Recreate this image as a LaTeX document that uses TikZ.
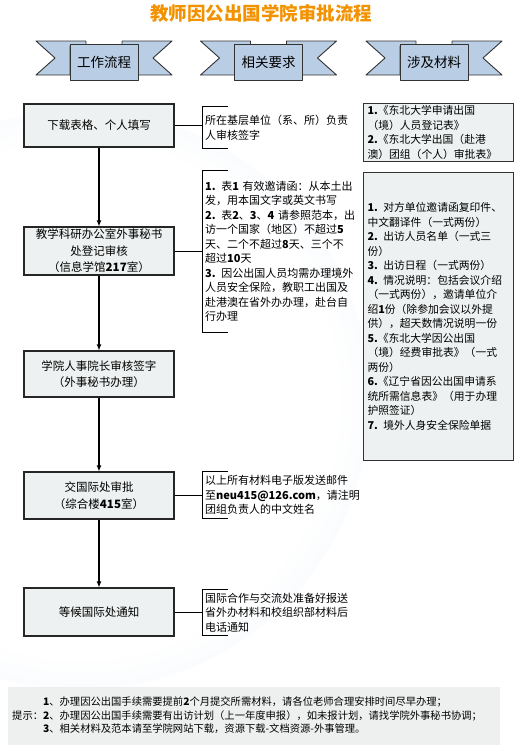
\documentclass[tikz,border=0pt]{standalone}
\usepackage{fontspec}
\setmainfont{Noto Sans CJK SC}
\usetikzlibrary{arrows.meta}

\definecolor{titleorange}{HTML}{F39200}
\definecolor{ribbonblue}{HTML}{B9CDE5}
\definecolor{boxgray}{HTML}{EEF1F1}
\definecolor{notegray}{HTML}{EEF0F0}
\definecolor{globeblue}{HTML}{E3ECF6}

\pgfdeclareradialshading{globe}{\pgfpoint{0bp}{0bp}}{%
  color(0bp)=(white); color(22bp)=(white); color(40bp)=(globeblue);
  color(46bp)=(globeblue); color(50bp)=(white)}

\newcommand\num[1]{\textbf{#1}}

\tikzset{
  ribbonline/.style={draw=black!80, line width=0.9pt, fill=ribbonblue, line join=round},
  ribbonpanel/.style={ribbonline, minimum width=68pt, minimum height=36pt, inner sep=0pt,
    font=\fontsize{13.5}{16}\selectfont},
  stepbox/.style={draw=black!85, line width=1.1pt, fill=boxgray, minimum width=150pt,
    inner sep=0pt, align=center, font=\fontsize{11.5}{16.5}\selectfont},
  flow/.style={line width=1.1pt, -{Latex[length=6pt,width=5pt]}},
  link/.style={line width=1pt},
  note/.style={anchor=west, text width=150pt, inner xsep=3pt, inner ysep=0pt, align=left,
    font=\fontsize{11}{14.5}\selectfont},
  bracket/.style={line width=1pt},
  matbox/.style={draw=black!80, line width=1pt, fill=boxgray, anchor=north west, text width=142pt,
    inner xsep=4pt, inner ysep=0pt, align=left, font=\fontsize{10.8}{14.5}\selectfont}
}

% banner with a panel in front of two notched wings
\newcommand\ribbon[3]{%
  \begin{scope}[shift={(#1,0)}]
    \draw[ribbonline] (-68,41) -- (-18,41) -- (-18,46) -- (-34,46) -- (-34,75) -- (-68,75) -- (-49,58) -- cycle;
    \draw[ribbonline] (68,41) -- (18,41) -- (18,46) -- (34,46) -- (34,75) -- (68,75) -- (49,58) -- cycle;
    \node[ribbonpanel] (#2) at (0,62) {#3};
  \end{scope}}

\begin{document}
\begin{tikzpicture}[x=1pt,y=-1pt]
\useasboundingbox (0,0) rectangle (518,747);
\shade[shading=globe] (80,400) circle (290);

\node[font=\fontsize{18.5}{20}\selectfont\bfseries, text=titleorange] (title) at (261,13) {教师因公出国学院审批流程};

\ribbon{104}{h1}{工作流程}
\ribbon{268.5}{h2}{相关要求}
\ribbon{434}{h3}{涉及材料}

% work flow
\node[stepbox, minimum height=43pt] (b1) at (99,125.5) {下载表格、个人填写};
\node[stepbox, minimum height=48pt] (b2) at (99,251) {教学科研办公室外事秘书\\处登记审核\\（信息学馆\num{217}室）};
\node[stepbox, minimum height=46pt] (b3) at (99,374) {学院人事院长审核签字\\（外事秘书办理）};
\node[stepbox, minimum height=47pt] (b4) at (99,495.5) {交国际处审批\\（综合楼\num{415}室）};
\node[stepbox, minimum height=48pt] (b5) at (99,612) {等候国际处通知};

\draw[flow] (b1) -- (b2);
\draw[flow] (b2) -- (b3);
\draw[flow] (b3) -- (b4);
\draw[flow] (b4) -- (b5);

% requirements
\node[note, minimum height=41pt] (r1) at (202,127.5) {所在基层单位（系、所）负责\\人审核签字};
\node[note, minimum height=161pt] (r2) at (202,251.5) {\num{1.} 表\num{1} 有效邀请函：从本土出\\发，用本国文字或英文书写\\\num{2.} 表\num{2}、\num{3}、\num{4} 请参照范本，出\\访一个国家（地区）不超过\num{5}\\天、二个不超过\num{8}天、三个不\\超过\num{10}天\\\num{3.} 因公出国人员均需办理境外\\人员安全保险，教职工出国及\\赴港澳在省外办办理，赴台自\\行办理};
\node[note, minimum height=46pt] (r4) at (202,495) {以上所有材料电子版发送邮件\\至\num{neu415@126.com}，请注明\\团组负责人的中文姓名};
\node[note, minimum height=45pt] (r5) at (202,612.5) {国际合作与交流处准备好报送\\省外办材料和校组织部材料后\\电话通知};

\foreach \r in {r1,r2,r4,r5}
  \draw[bracket] ([xshift=26pt]\r.north west) -- (\r.north west) -- (\r.south west) -- ([xshift=26pt]\r.south west);

\draw[link] (b1.east) -- (b1.east -| r1.west);
\draw[link] (b2.east) -- (b2.east -| r2.west);
\draw[link] (b4.east) -- (b4.east -| r4.west);
\draw[link] (b5.east) -- (b5.east -| r5.west);

% materials
\node[matbox, minimum height=58pt] (m1) at (363,103) {\num{1.}《东北大学申请出国\\（境）人员登记表》\\\num{2.}《东北大学出国（赴港\\澳）团组（个人）审批表》};
\node[matbox, minimum height=288pt] (m2) at (363,172) {\num{1.} 对方单位邀请函复印件、\\中文翻译件（一式两份）\\\num{2.} 出访人员名单（一式三\\份）\\\num{3.} 出访日程（一式两份）\\\num{4.} 情况说明：包括会议介绍\\（一式两份），邀请单位介\\绍\num{1}份（除参加会议以外提\\供），超天数情况说明一份\\\num{5.}《东北大学因公出国\\（境）经费审批表》（一式\\两份）\\\num{6.}《辽宁省因公出国申请系\\统所需信息表》（用于办理\\护照签证）\\\num{7.} 境外人身安全保险单据};

% tips
\fill[notegray] (8,687) rectangle (500,745);
\node[anchor=west, inner sep=0pt, font=\fontsize{10.3}{13.5}\selectfont] (tips) at (12,716.5) {%
  \begin{tabular}{@{}l@{}l@{}}
   & \num{1}、办理因公出国手续需要提前\num{2}个月提交所需材料，请各位老师合理安排时间尽早办理；\\
  提示： & \num{2}、办理因公出国手续需要有出访计划（上一年度申报），如未报计划，请找学院外事秘书协调；\\
   & \num{3}、相关材料及范本请至学院网站下载，资源下载-文档资源-外事管理。
  \end{tabular}};
\end{tikzpicture}
\end{document}
